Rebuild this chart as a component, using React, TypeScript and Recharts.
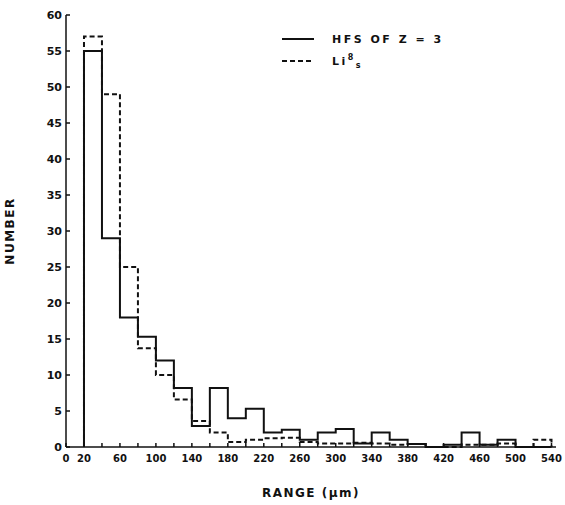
import { LineChart, Line, XAxis, YAxis, Legend } from 'recharts';

// histogram bins, 20 µm wide, left edges
const binStarts = [20, 40, 60, 80, 100, 120, 140, 160, 180, 200, 220, 240, 260, 280, 300, 320, 340, 360, 380, 400, 420, 440, 460, 480, 500, 520];
const hfsCounts = [55, 29, 18, 15.3, 12, 8.2, 2.9, 8.2, 4, 5.3, 2, 2.4, 1, 2, 2.5, 0.5, 2, 1, 0.4, 0, 0.3, 2, 0.3, 1, 0, 0];
const li8Counts = [57, 49, 25, 13.7, 10, 6.6, 3.6, 2, 0.7, 1, 1.2, 1.3, 0.7, 0.5, 0.5, 0.6, 0.5, 0.3, 0.4, 0, 0, 0.3, 0.3, 0.5, 0, 1];

const xTicks = [0, 20, 40, 60, 80, 100, 120, 140, 160, 180, 200, 220, 240, 260, 280, 300, 320, 340, 360, 380, 400, 420, 440, 460, 480, 500, 520, 540];
const xLabels = [0, 20, 60, 100, 140, 180, 220, 260, 300, 340, 380, 420, 460, 500, 540];
const yTicks = [0, 5, 10, 15, 20, 25, 30, 35, 40, 45, 50, 55, 60];

const binEnd = 540;
const last = binStarts.length - 1;

const rows = [{ x: binStarts[0], hfs: 0, li8: 0 }];
binStarts.forEach((s, i) => rows.push({ x: s, hfs: hfsCounts[i], li8: li8Counts[i] }));
rows.push({ x: binEnd, hfs: hfsCounts[last], li8: li8Counts[last] });
rows.push({ x: binEnd, hfs: 0, li8: 0 });

const font = '"DejaVu Sans", sans-serif';
const ink = '#111';

function LegendBox() {
    return (
        <div style={{ fontFamily: font, fontSize: 11, fontWeight: 'bold', color: ink, letterSpacing: 2.5 }}>
            <div style={{ display: 'flex', alignItems: 'center', height: 22 }}>
                <svg width={32} height={6}>
                    <line x1={0} y1={3} x2={32} y2={3} stroke={ink} strokeWidth={2} />
                </svg>
                <span style={{ marginLeft: 18 }}>HFS OF Z = 3</span>
            </div>
            <div style={{ display: 'flex', alignItems: 'center', height: 22 }}>
                <svg width={32} height={6}>
                    <line x1={0} y1={3} x2={32} y2={3} stroke={ink} strokeWidth={2} strokeDasharray="5 3" />
                </svg>
                <span style={{ marginLeft: 18 }}>
                    Li<sup style={{ fontSize: 8 }}>8</sup><sub style={{ fontSize: 8 }}>s</sub>
                </span>
            </div>
        </div>
    );
}

export default function App() {
    const tickStyle = { fontFamily: font, fontSize: 11, fontWeight: 'bold', fill: ink };
    return (
        <div style={{ position: 'absolute', left: 0, top: 0, background: '#fff' }}>
            <LineChart width={565} height={505} data={rows} margin={{ top: 15, right: 9, left: 0, bottom: 0 }}>
                <XAxis
                    dataKey="x"
                    type="number"
                    domain={[0, 545]}
                    ticks={xTicks}
                    interval={0}
                    tickFormatter={(v: number) => (xLabels.includes(v) ? String(v) : '')}
                    tickSize={-4}
                    tickMargin={12}
                    height={58}
                    stroke={ink}
                    strokeWidth={1.5}
                    tick={{ ...tickStyle, fontSize: 10 }}
                    label={{ value: 'RANGE (µm)', position: 'insideBottom', offset: 8, style: { fontFamily: font, fontSize: 12, fontWeight: 'bold', fill: ink, letterSpacing: 1.5 } }}
                />
                <YAxis
                    type="number"
                    domain={[0, 60]}
                    ticks={yTicks}
                    interval={0}
                    width={66}
                    tickSize={-4}
                    tickMargin={8}
                    stroke={ink}
                    strokeWidth={1.5}
                    tick={tickStyle}
                    label={{ value: 'NUMBER', angle: -90, position: 'insideLeft', offset: 10, style: { textAnchor: 'middle', fontFamily: font, fontSize: 12, fontWeight: 'bold', fill: ink, letterSpacing: 1.5 } }}
                />
                <Legend
                    layout="vertical"
                    align="center"
                    verticalAlign="middle"
                    content={() => <LegendBox />}
                    wrapperStyle={{ top: 28, left: 282, width: 220, height: 44 }}
                />
                <Line type="stepAfter" dataKey="li8" stroke={ink} strokeWidth={2} strokeDasharray="5 3" dot={false} isAnimationActive={false} name="Li8s" />
                <Line type="stepAfter" dataKey="hfs" stroke={ink} strokeWidth={2} dot={false} isAnimationActive={false} name="HFS OF Z = 3" />
            </LineChart>
        </div>
    );
}
